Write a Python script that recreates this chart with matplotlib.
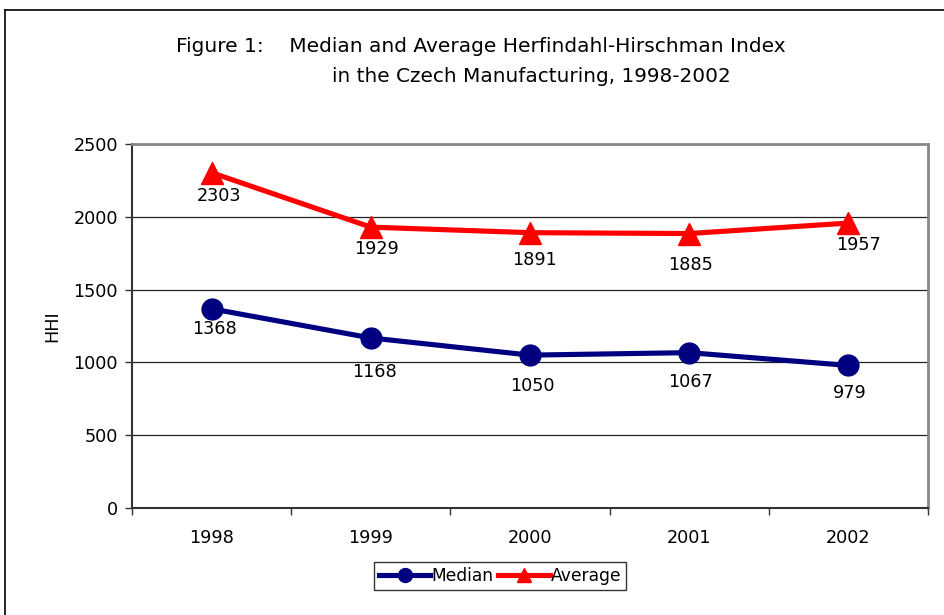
import matplotlib
matplotlib.use("Agg")
import matplotlib.pyplot as plt
from matplotlib.lines import Line2D

plt.rcParams['font.family'] = ['DejaVu Sans']

years = ["1998", "1999", "2000", "2001", "2002"]
median = [1368, 1168, 1050, 1067, 979]
average = [2303, 1929, 1891, 1885, 1957]
yticks = [0, 500, 1000, 1500, 2000, 2500]

title_l1 = "Figure 1:    Median and Average Herfindahl-Hirschman Index"
title_l2 = "in the Czech Manufacturing, 1998-2002"

# label offsets below markers (points)
med_off = [-8, -18, -16, -15, -13]
avg_off = [-10, -9, -13, -16, -9]
med_dx = [2, 3, 2, 1, 1]
avg_dx = [5, 4, 3, 1, 7]

FS = 12.7

fig = plt.figure(figsize=(9.45, 6.15), dpi=100)
ax = fig.add_axes([132/945, 1 - 508/615, (928-132)/945, (508-144)/615])

x = list(range(len(years)))
navy = "#000080"
red = "#ff0000"

ax.plot(x, average, color=red, lw=3.7, marker="^", ms=16, zorder=4,
        label="Average", solid_joinstyle="round")
ax.plot(x, median, color=navy, lw=3.7, marker="o", ms=15, zorder=4,
        label="Median", solid_joinstyle="round")

for i, v in enumerate(average):
    ax.annotate(str(v), (i, v), xytext=(avg_dx[i], avg_off[i]),
                textcoords="offset points", ha="center", va="top", fontsize=FS)
for i, v in enumerate(median):
    ax.annotate(str(v), (i, v), xytext=(med_dx[i], med_off[i]),
                textcoords="offset points", ha="center", va="top", fontsize=FS)

ax.set_xlim(-0.5, len(years) - 0.5)
ax.set_ylim(0, 2500)
ax.set_yticks(yticks)
ax.set_yticklabels([str(t) for t in yticks], fontsize=FS)
ax.set_xticks(x)
ax.set_xticklabels(years, fontsize=FS)
ax.set_xticks([i - 0.5 for i in range(len(years) + 1)], minor=True)
ax.tick_params(axis="x", which="major", length=0, pad=15)
ax.tick_params(axis="x", which="minor", length=5, width=1, direction="out", color="#333333")
ax.tick_params(axis="y", length=5, width=1, direction="out", color="#333333", pad=5)

for yv in yticks[1:]:
    ax.axhline(yv, color="#222222", lw=0.9, zorder=1)

for s in ["left", "bottom"]:
    ax.spines[s].set_color("#333333")
    ax.spines[s].set_linewidth(1.5)
for s in ["top", "right"]:
    ax.spines[s].set_color("#888888")
    ax.spines[s].set_linewidth(2)

ax.set_ylabel("HHI", fontsize=FS, labelpad=9)

fig.text(481/945, 1 - 47/615, title_l1, ha="center", va="center", fontsize=14.5)
fig.text(531/945, 1 - 77/615, title_l2, ha="center", va="center", fontsize=14.4)

handles = [Line2D([], [], color=navy, lw=3.7, marker="o", ms=10),
           Line2D([], [], color=red, lw=3.7, marker="^", ms=10)]
leg = fig.legend(handles, ["Median", "Average"], loc="center",
                 bbox_to_anchor=(500/945, 1 - 576/615), ncol=2, fontsize=12.3,
                 frameon=True, fancybox=False, edgecolor="black",
                 handlelength=3.0, handletextpad=0.05, columnspacing=0.3,
                 borderpad=0.3, borderaxespad=0)
leg.get_frame().set_linewidth(1.0)

# outer chart frame (only top and left edges visible)
fig.add_artist(Line2D([5/945, 5/945], [0, 1 - 10/615], color="black", lw=1.2,
                      transform=fig.transFigure))
fig.add_artist(Line2D([5/945, 1], [1 - 10/615, 1 - 10/615], color="black", lw=1.2,
                      transform=fig.transFigure))

fig.savefig("out.png", dpi=100)
